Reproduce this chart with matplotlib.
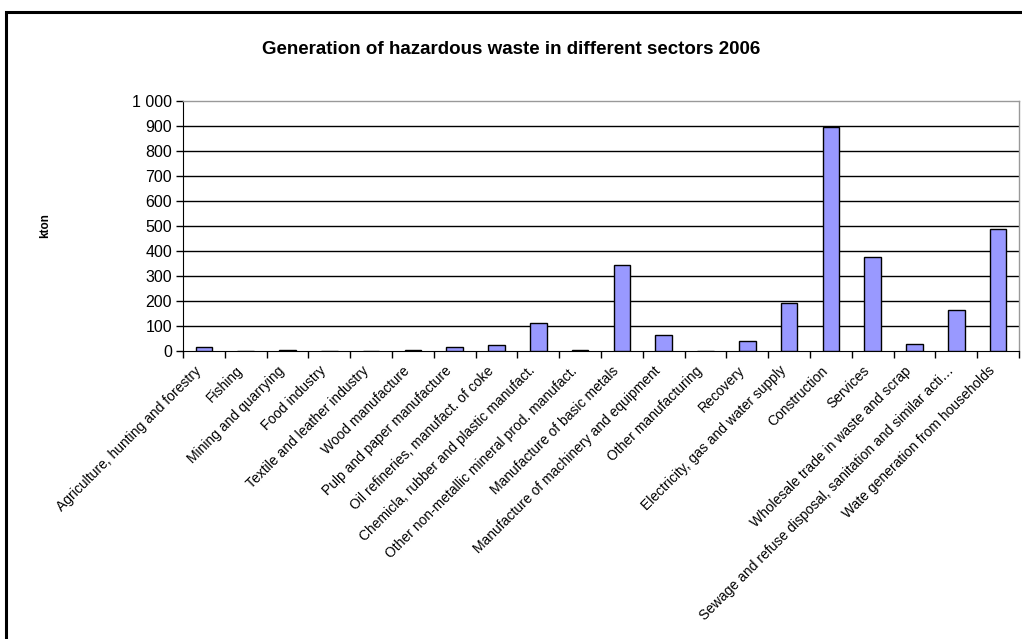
import numpy as np
import matplotlib
matplotlib.use('Agg')
import matplotlib.pyplot as plt
import matplotlib.transforms as mtransforms
from matplotlib.patches import Rectangle
from matplotlib.ticker import FuncFormatter

plt.rcParams['font.family'] = ['Liberation Sans', 'DejaVu Sans']

# --- Data: hazardous waste by sector, 2006 (kton) ---
sectors = [
    'Agriculture, hunting and forestry',
    'Fishing',
    'Mining and quarrying',
    'Food industry',
    'Textile and leather industry',
    'Wood manufacture',
    'Pulp and paper manufacture',
    'Oil refineries, manufact. of coke',
    'Chemicla, rubber and plastic manufact.',
    'Other non-metallic mineral prod. manufact.',
    'Manufacture of basic metals',
    'Manufacture of machinery and equipment',
    'Other manufacturing',
    'Recovery',
    'Electricity, gas and water supply',
    'Construction',
    'Services',
    'Wholesale trade in waste and scrap',
    'Sewage and refuse disposal, sanitation and similar acti\u2026',
    'Wate generation from households',
]
kton = [17, 2, 4, 2, 0, 3, 15, 25, 112, 4, 343, 64, 2, 40, 191, 896, 377, 28, 165, 488]

y_ticks = np.arange(0, 1001, 100)

# --- Figure ---
fig = plt.figure(figsize=(10.22, 6.39), dpi=100)

# chart frame
fig.patches.append(Rectangle((6 / 1022, -0.05), 1.2, (639 - 12) / 639 + 0.05,
                             transform=fig.transFigure, fill=False,
                             edgecolor='black', linewidth=2.2))

ax = fig.add_axes([183 / 1022, (639 - 351) / 639, (1019 - 183) / 1022, 250 / 639])

x = np.arange(len(sectors))
ax.bar(x, kton, width=0.4, color='#9999FF', edgecolor='black', linewidth=1.0, zorder=3)

ax.set_xlim(-0.5, len(sectors) - 0.5)
ax.set_ylim(0, 1000)

# gridlines
for v in y_ticks[1:-1]:
    ax.axhline(v, color='black', linewidth=1.0, zorder=1)

for side in ['top', 'right']:
    ax.spines[side].set_color('#999999')
    ax.spines[side].set_linewidth(1.0)
ax.spines['left'].set_color('black')
ax.spines['bottom'].set_color('black')

ax.set_yticks(y_ticks)
ax.yaxis.set_major_formatter(FuncFormatter(lambda v, p: f'{int(v):,}'.replace(',', ' ')))
ax.tick_params(axis='y', direction='out', length=5, width=1, labelsize=11.5, pad=3)

ax.set_xticks(x)
ax.set_xticklabels(sectors, rotation=45, ha='right', va='top', rotation_mode='anchor', fontsize=10)
ax.set_xticks(np.arange(-0.5, len(sectors), 1.0), minor=True)
ax.tick_params(axis='x', which='major', length=0, pad=12)
ax.tick_params(axis='x', which='minor', direction='out', length=5, width=1)

# nudge the slanted labels a little left and up
shift = mtransforms.ScaledTranslation(-10 / 100, 4 / 100, fig.dpi_scale_trans)
for lbl in ax.get_xticklabels():
    lbl.set_transform(lbl.get_transform() + shift)

fig.text(45 / 1022, 1 - 226 / 639, 'kton', rotation=90, fontsize=8.5, fontweight='bold',
         ha='center', va='center')
fig.text(511 / 1022, 1 - 49 / 639, 'Generation of hazardous waste in different sectors 2006',
         fontsize=13.5, fontweight='bold', ha='center', va='center')

fig.savefig('out.png', dpi=100)
